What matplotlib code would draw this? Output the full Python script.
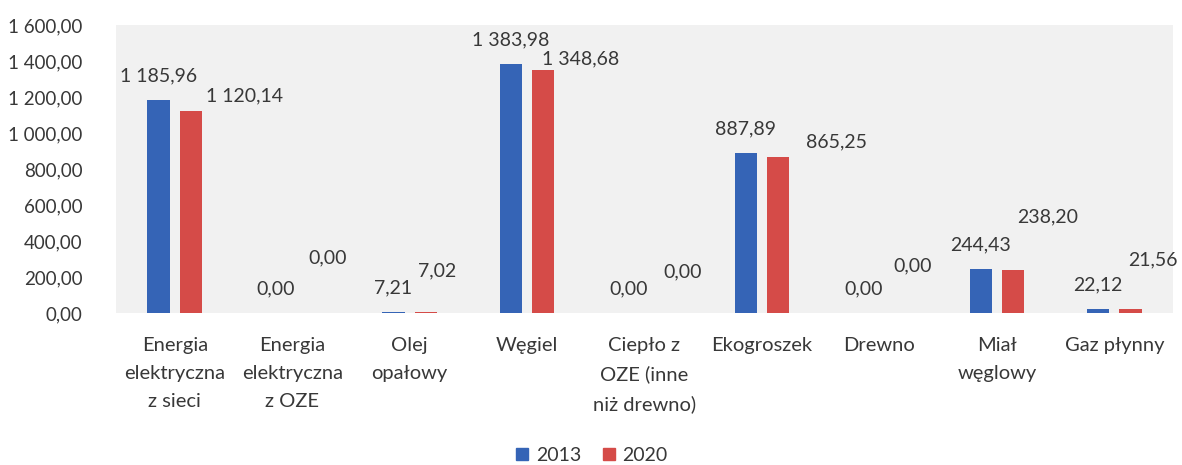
"""
Zużycie paliw 2013 vs 2020 - wykres słupkowy
"""
import numpy as np
import matplotlib
matplotlib.use('Agg')
import matplotlib.pyplot as plt
from matplotlib.lines import Line2D

plt.rcParams['font.family'] = ['Lato', 'DejaVu Sans']

kategorie = ['Energia\nelektryczna\nz sieci', 'Energia\nelektryczna\nz OZE', 'Olej\nopałowy',
             'Węgiel', 'Ciepło z\nOZE (inne\nniż drewno)', 'Ekogroszek', 'Drewno',
             'Miał\nwęglowy', 'Gaz płynny']
rok_2013 = [1185.96, 0.00, 7.21, 1383.98, 0.00, 887.89, 0.00, 244.43, 22.12]
rok_2020 = [1120.14, 0.00, 7.02, 1348.68, 0.00, 865.25, 0.00, 238.20, 21.56]
y_ticks = [0, 200, 400, 600, 800, 1000, 1200, 1400, 1600]

# przesunięcia etykiet 2020 (px) - w oryginale przeciągane ręcznie
off_2020 = [(54, 15), (19, 55), (11, 41), (37, 11), (22, 41), (58, 15), (17, 47), (35, 53), (23, 49)]

niebieski = '#3564b6'
czerwony = '#d54b48'
szary = '#383838'


def fmt(v):
    s = '{:,.2f}'.format(v)
    return s.replace(',', ' ').replace('.', ',')


W, H = 1182, 465
fig = plt.figure(figsize=(W / 100, H / 100), dpi=100)
ax = fig.add_axes([116 / W, (H - 313) / H, (1173 - 116) / W, (313 - 25) / H])
ax.set_facecolor('#f1f1f1')

x = np.arange(len(kategorie))
d = 0.137
w = 0.19
b1 = ax.bar(x - d, rok_2013, w, color=niebieski, zorder=2)
b2 = ax.bar(x + d, rok_2020, w, color=czerwony, zorder=2)

for i, r in enumerate(b1):
    ax.annotate(fmt(rok_2013[i]), (r.get_x() + r.get_width() / 2, r.get_height()),
                xytext=(0, 24), textcoords='offset pixels', ha='center', va='center',
                fontsize=14, color=szary)
for i, r in enumerate(b2):
    dx, dy = off_2020[i]
    ax.annotate(fmt(rok_2020[i]), (r.get_x() + r.get_width() / 2, r.get_height()),
                xytext=(dx, dy), textcoords='offset pixels', ha='center', va='center',
                fontsize=14, color=szary)

ax.set_xlim(-0.5, len(kategorie) - 0.5)
ax.set_ylim(0, 1600)
ax.set_yticks(y_ticks)
ax.set_yticklabels([fmt(t) for t in y_ticks])
ax.set_xticks(x)
ax.set_xticklabels(kategorie, linespacing=1.8, fontsize=14.5)
ax.tick_params(axis='both', length=0, colors=szary)
ax.tick_params(axis='y', pad=24, labelsize=13.5)
ax.tick_params(axis='x', pad=17)
for s in ax.spines.values():
    s.set_visible(False)

uchwyty = [Line2D([], [], marker='s', linestyle='', color=niebieski, markersize=8),
           Line2D([], [], marker='s', linestyle='', color=czerwony, markersize=8)]
fig.legend(uchwyty, ['2013', '2020'], loc='center', bbox_to_anchor=(0.5, 10 / H), ncol=2,
           frameon=False, fontsize=14, handlelength=0.8, handletextpad=0.3, columnspacing=1.0,
           labelcolor=szary)

fig.savefig('out.png', dpi=100)
